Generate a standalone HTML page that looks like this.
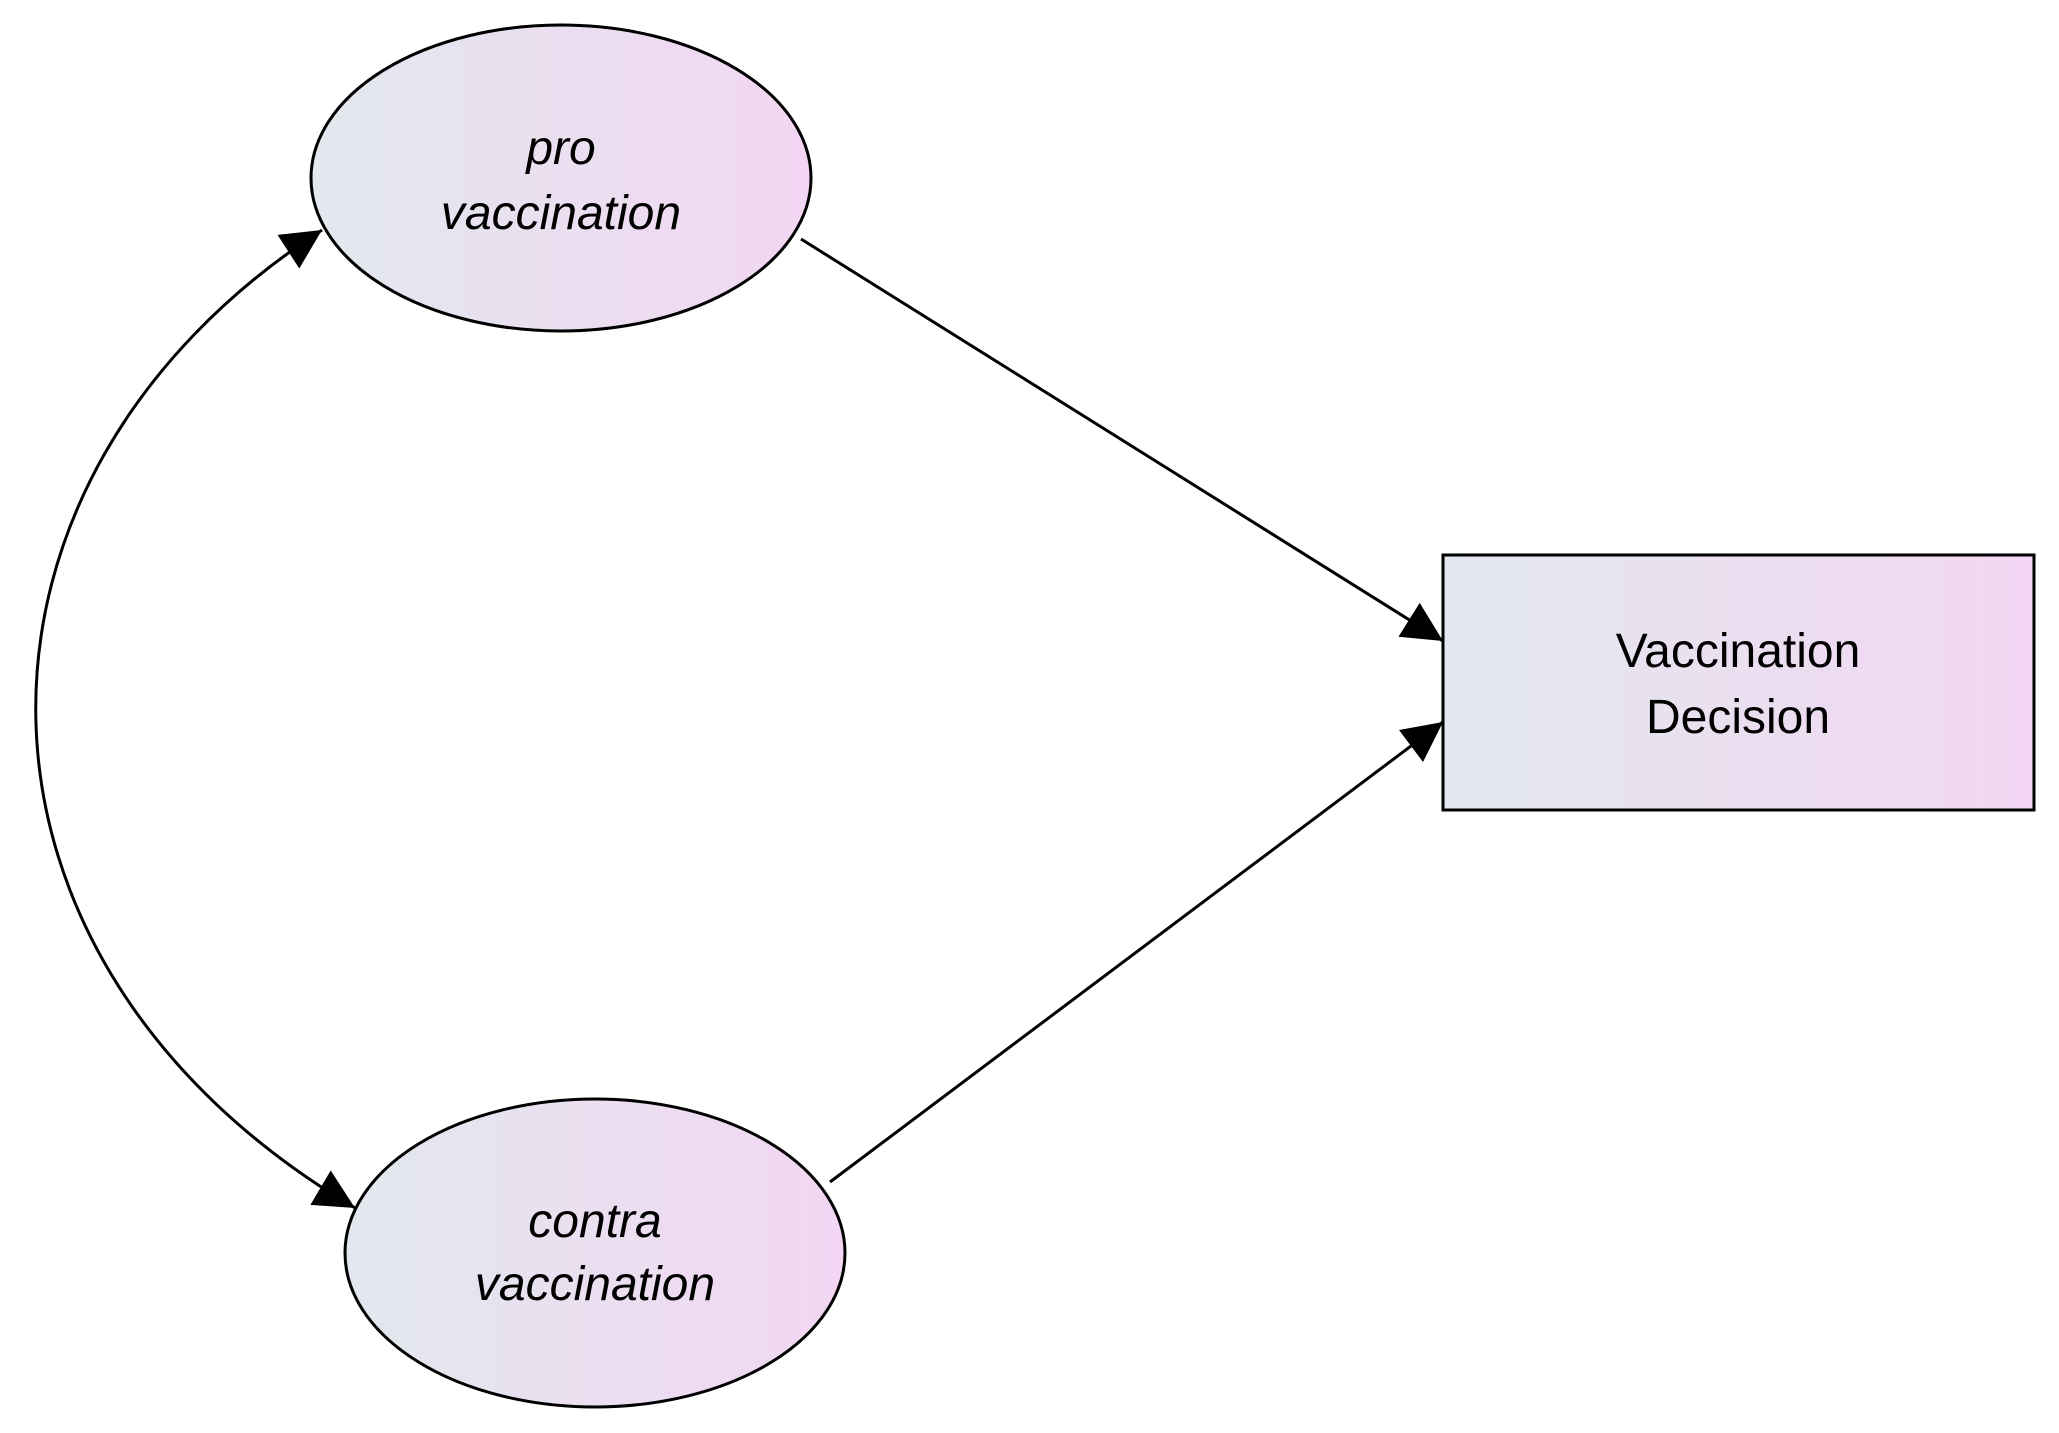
<!DOCTYPE html>
<html><head><style>html,body{margin:0;padding:0;background:#fff}svg{display:block}</style></head>
<body>
<svg width="2059" height="1433" viewBox="0 0 2059 1433" xmlns="http://www.w3.org/2000/svg">
<defs>
<linearGradient id="g" x1="0" y1="0" x2="1" y2="0">
<stop offset="0" stop-color="#e2e8ee"/><stop offset="1" stop-color="#f3d6f3"/></linearGradient>
<marker id="a" viewBox="0 0 10 10" refX="10" refY="5" markerWidth="18" markerHeight="16" markerUnits="userSpaceOnUse" orient="auto-start-reverse">
<path d="M0,0 L10,5 L0,10 z" fill="#000"/></marker>
<marker id="b" viewBox="0 0 10 10" refX="10" refY="5" markerWidth="56" markerHeight="40" markerUnits="userSpaceOnUse" orient="auto-start-reverse">
<path d="M0,0 L10,5 L0,10 z" fill="#000"/></marker>
</defs>
<ellipse cx="561" cy="178" rx="250" ry="153" fill="url(#g)" stroke="#000" stroke-width="3"/>
<ellipse cx="595" cy="1253" rx="250" ry="154" fill="url(#g)" stroke="#000" stroke-width="3"/>
<rect x="1443" y="555" width="591" height="255" fill="url(#g)" stroke="#000" stroke-width="3"/>
<g font-family="Liberation Sans, sans-serif" font-size="48" text-anchor="middle">
<text x="561" y="164" font-style="italic">pro</text>
<text x="561" y="229" font-style="italic">vaccination</text>
<text x="595" y="1237" font-style="italic">contra</text>
<text x="595" y="1300" font-style="italic">vaccination</text>
<text x="1738" y="667">Vaccination</text>
<text x="1738" y="733">Decision</text>
</g>
<line x1="801" y1="239" x2="1443" y2="641" stroke="#000" stroke-width="3" marker-end="url(#b)"/>
<line x1="830" y1="1182" x2="1443" y2="722" stroke="#000" stroke-width="3" marker-end="url(#b)"/>
<path d="M322,230 C-65,480 -65,960 355,1208" fill="none" stroke="#000" stroke-width="3" marker-start="url(#b)" marker-end="url(#b)"/>
</svg>
</body></html>
